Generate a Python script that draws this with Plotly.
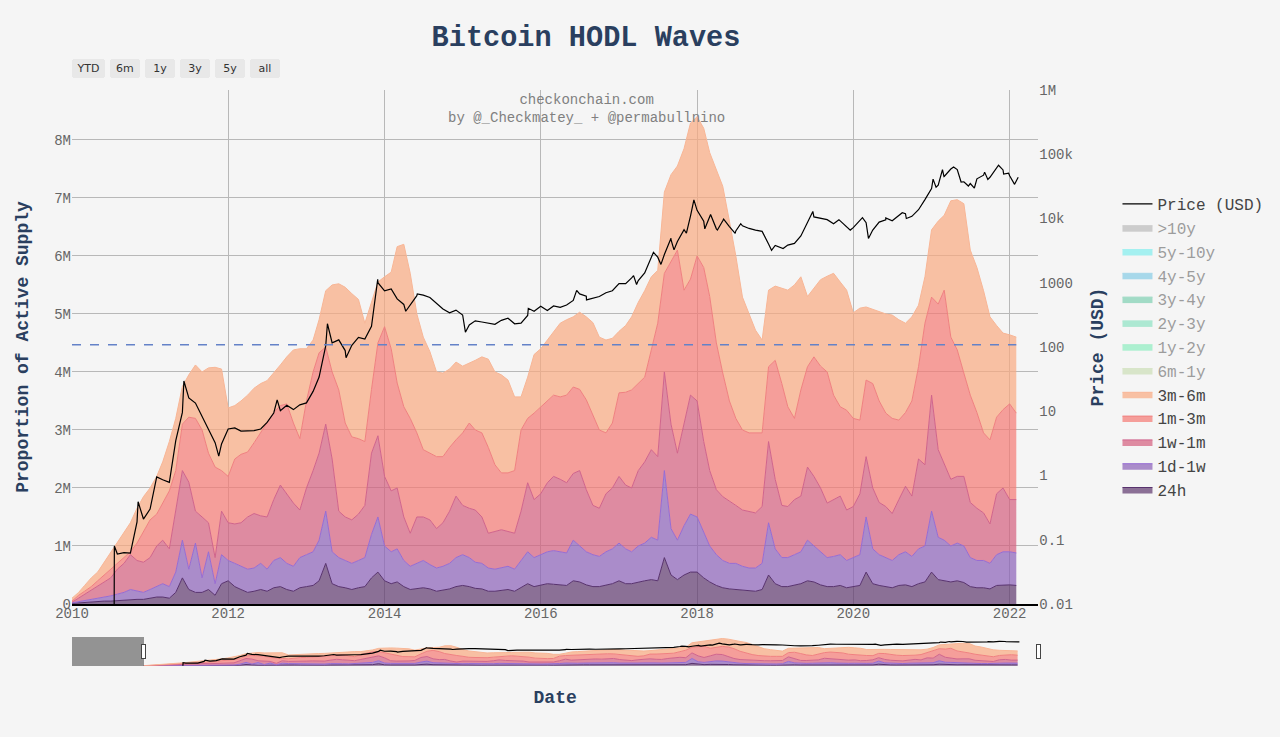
import numpy as np
import pandas as pd
import plotly.graph_objects as go

# ---------------- data ----------------
months = pd.date_range("2010-01-01", "2022-02-01", freq="MS")  # 146 monthly samples

# cumulative top of each stacked band (millions of BTC)
top_24h = [
    0.01, 0.02, 0.03, 0.03, 0.04, 0.05, 0.05, 0.06, 0.07, 0.08, 0.08, 0.08,
    0.10, 0.12, 0.12, 0.10, 0.20, 0.45, 0.25, 0.20, 0.20, 0.25, 0.15, 0.35,
    0.40, 0.30, 0.25, 0.20, 0.22, 0.25, 0.22, 0.28, 0.30, 0.25, 0.22, 0.28,
    0.30, 0.32, 0.40, 0.70, 0.35, 0.30, 0.28, 0.25, 0.28, 0.30, 0.45, 0.55,
    0.40, 0.35, 0.38, 0.30, 0.25, 0.27, 0.28, 0.26, 0.22, 0.24, 0.26, 0.30,
    0.32, 0.30, 0.27, 0.26, 0.22, 0.22, 0.24, 0.25, 0.22, 0.28, 0.35, 0.30,
    0.32, 0.35, 0.34, 0.33, 0.32, 0.40, 0.38, 0.33, 0.30, 0.30, 0.33, 0.35,
    0.40, 0.35, 0.35, 0.38, 0.40, 0.42, 0.40, 0.80, 0.50, 0.42, 0.50, 0.55,
    0.55, 0.45, 0.38, 0.32, 0.28, 0.26, 0.25, 0.24, 0.22, 0.22, 0.25, 0.50,
    0.35, 0.30, 0.30, 0.32, 0.35, 0.40, 0.38, 0.33, 0.30, 0.30, 0.32, 0.28,
    0.30, 0.32, 0.55, 0.35, 0.32, 0.30, 0.28, 0.32, 0.33, 0.30, 0.35, 0.38,
    0.55, 0.42, 0.40, 0.38, 0.40, 0.37, 0.30, 0.28, 0.28, 0.26, 0.32, 0.33,
    0.33, 0.32,
]
top_1d_1w = [
    0.02, 0.04, 0.06, 0.08, 0.10, 0.12, 0.14, 0.17, 0.20, 0.25, 0.22, 0.20,
    0.25, 0.30, 0.35, 0.30, 0.55, 1.10, 0.60, 1.05, 0.45, 0.90, 0.35, 0.85,
    0.75, 0.70, 0.65, 0.60, 0.62, 0.70, 0.60, 0.75, 0.80, 0.70, 0.65, 0.80,
    0.85, 0.90, 1.10, 1.60, 0.90, 0.80, 0.75, 0.70, 0.75, 0.80, 1.20, 1.50,
    1.00, 0.90, 0.95, 0.75, 0.65, 0.70, 0.75, 0.68, 0.62, 0.65, 0.70, 0.80,
    0.85, 0.80, 0.72, 0.70, 0.62, 0.60, 0.62, 0.65, 0.60, 0.75, 0.90, 0.80,
    0.85, 0.90, 0.92, 0.90, 0.88, 1.10, 1.00, 0.90, 0.85, 0.82, 0.90, 0.95,
    1.05, 0.95, 0.90, 1.00, 1.05, 1.15, 1.10, 2.30, 1.30, 1.10, 1.35, 1.55,
    1.50, 1.25, 1.00, 0.85, 0.75, 0.70, 0.70, 0.65, 0.62, 0.62, 0.70, 1.40,
    0.95, 0.80, 0.80, 0.85, 0.90, 1.10, 1.00, 0.90, 0.80, 0.82, 0.85, 0.75,
    0.80, 0.85, 1.50, 0.95, 0.85, 0.80, 0.75, 0.85, 0.90, 0.82, 0.95, 1.00,
    1.60, 1.15, 1.10, 1.00, 1.05, 1.00, 0.80, 0.75, 0.75, 0.70, 0.85, 0.90,
    0.90, 0.88,
]
top_1w_1m = [
    0.03, 0.10, 0.17, 0.23, 0.30, 0.38, 0.45, 0.60, 0.70, 0.85, 0.75, 0.72,
    0.80, 1.00, 1.10, 0.95, 1.60, 2.30, 2.10, 1.60, 1.50, 1.40, 0.80, 1.60,
    1.40, 1.38, 1.40, 1.50, 1.56, 1.52, 1.50, 1.80, 2.05, 1.90, 1.74, 1.62,
    2.00, 2.30, 2.60, 3.10, 2.50, 1.60, 1.50, 1.45, 1.55, 1.70, 2.60, 2.90,
    2.20, 1.95, 2.00, 1.50, 1.22, 1.50, 1.50, 1.45, 1.30, 1.40, 1.60, 1.86,
    1.70, 1.65, 1.62, 1.50, 1.22, 1.25, 1.28, 1.25, 1.22, 1.60, 2.09, 1.80,
    1.90, 2.09, 2.20, 2.15, 2.09, 2.25, 2.30, 1.97, 1.70, 1.65, 1.90, 2.00,
    2.20, 2.05, 2.00, 2.30, 2.45, 2.66, 2.54, 4.00, 3.10, 2.60, 3.10, 3.60,
    3.50, 2.80, 2.30, 1.97, 1.85, 1.78, 1.70, 1.62, 1.60, 1.57, 1.68, 2.80,
    2.15, 1.70, 1.68, 1.80, 1.86, 2.36, 2.20, 2.00, 1.74, 1.80, 1.86, 1.62,
    1.68, 1.90, 2.54, 2.00, 1.75, 1.68, 1.56, 1.80, 2.03, 1.86, 2.50, 2.40,
    3.60, 2.66, 2.43, 2.15, 2.20, 2.20, 1.75, 1.65, 1.57, 1.38, 1.90, 2.00,
    1.80, 1.80,
]
top_1m_3m = [
    0.05, 0.15, 0.22, 0.30, 0.40, 0.50, 0.60, 0.70, 0.80, 0.90, 1.05, 1.25,
    1.45, 1.55, 1.74, 1.95, 2.30, 3.10, 3.22, 3.20, 3.00, 2.60, 2.36, 2.30,
    2.20, 2.50, 2.58, 2.62, 2.78, 2.95, 3.12, 3.30, 3.42, 3.45, 3.12, 2.85,
    3.50, 4.00, 4.33, 4.43, 4.00, 3.69, 3.12, 2.88, 2.85, 2.80, 3.70, 4.50,
    4.78, 4.40, 3.81, 3.40, 3.20, 2.95, 2.66, 2.60, 2.54, 2.54, 2.70, 2.83,
    2.95, 3.12, 3.00, 2.95, 2.70, 2.40, 2.26, 2.26, 2.30, 3.00, 3.20, 3.29,
    3.40, 3.50, 3.60, 3.57, 3.60, 3.74, 3.70, 3.52, 3.25, 3.00, 2.95, 3.12,
    3.64, 3.65, 3.69, 3.80, 3.91, 4.38, 4.84, 5.70, 5.90, 6.10, 5.41, 5.60,
    6.00, 5.80, 5.30, 4.50, 3.98, 3.50, 3.20, 3.00, 2.95, 2.95, 2.95, 4.09,
    4.20, 3.80, 3.40, 3.20, 3.69, 4.09, 4.26, 4.10, 4.00, 3.60, 3.40, 3.34,
    3.20, 3.17, 3.86, 3.80, 3.50, 3.29, 3.20, 3.17, 3.30, 3.50, 4.09, 4.84,
    5.29, 5.17, 5.41, 4.60, 4.38, 3.98, 3.60, 3.30, 2.95, 2.83, 3.22, 3.35,
    3.45, 3.29,
]
top_3m_6m = [
    0.10, 0.20, 0.32, 0.45, 0.55, 0.72, 0.90, 1.05, 1.22, 1.40, 1.65, 1.85,
    2.00, 2.20, 2.45, 2.80, 3.20, 3.75, 3.95, 4.12, 4.00, 4.07, 4.08, 4.05,
    3.38, 3.42, 3.50, 3.60, 3.72, 3.80, 3.85, 3.98, 4.12, 4.26, 4.38, 4.40,
    4.40, 4.55, 4.90, 5.40, 5.50, 5.52, 5.46, 5.35, 5.25, 4.84, 5.20, 5.55,
    5.64, 5.72, 6.16, 6.20, 5.70, 5.00, 4.60, 4.35, 4.00, 3.98, 4.05, 4.17,
    4.10, 4.15, 4.20, 4.26, 4.22, 4.00, 3.95, 3.86, 3.57, 3.57, 3.91, 4.30,
    4.40, 4.55, 4.70, 4.84, 4.90, 4.95, 5.03, 4.95, 4.85, 4.60, 4.55, 4.58,
    4.70, 4.80, 4.95, 5.20, 5.40, 5.64, 5.75, 7.10, 7.40, 7.55, 7.85, 8.29,
    8.40, 8.20, 7.78, 7.50, 7.20, 6.60, 6.00, 5.29, 5.00, 4.72, 4.55, 5.41,
    5.48, 5.45, 5.41, 5.50, 5.64, 5.30, 5.45, 5.59, 5.65, 5.70, 5.55, 5.41,
    5.02, 5.10, 5.12, 5.08, 5.05, 5.00, 4.98, 4.90, 4.84, 4.95, 5.15, 5.64,
    6.45, 6.60, 6.70, 6.95, 6.97, 6.90, 6.10, 5.80, 5.40, 4.95, 4.80, 4.67,
    4.64, 4.60,
]

# BTC price (USD), monthly plus intra-month highs and lows
price_months = pd.date_range("2010-08-01", "2022-02-01", freq="MS")
price_monthly = [
    0.06, 0.063, 0.062, 0.19, 0.21,
    0.30, 0.95, 0.86, 0.78, 3.5, 9.6, 16.1, 13.4, 8.2, 5.1, 3.25, 3.1,
    5.3, 5.5, 4.9, 4.9, 5.0, 5.3, 6.7, 9.4, 10.2, 12.4, 10.6, 12.6,
    13.5, 20.4, 34, 104, 116, 129, 88, 106, 141, 133, 210, 1000,
    750, 800, 560, 460, 450, 630, 640, 590, 480, 390, 340, 375,
    315, 220, 255, 245, 235, 225, 260, 280, 230, 235, 310, 360,
    430, 370, 435, 415, 450, 530, 670, 620, 570, 610, 700, 750,
    970, 970, 1190, 1080, 1420, 2400, 2500, 2750, 4700, 4400, 6700, 10900,
    13400, 9100, 10300, 6900, 9200, 7500, 6400, 7700, 7000, 6600, 6300, 4000,
    3800, 3450, 3850, 4100, 5350, 8550, 10600, 10100, 9600, 8300, 9200, 7600,
    7200, 9400, 8600, 6600, 8800, 9500, 9200, 11300, 11900, 10800, 13700, 19700,
    29300, 33100, 45200, 58900, 57800, 37300, 35000, 41500, 47200, 43800, 61300, 57000,
    46300, 38500,
]
price_extra_dates = [
    "2010-07-17", "2010-07-18", "2010-11-06", "2011-06-08", "2011-11-18",
    "2012-08-17", "2013-04-09", "2013-07-05", "2013-11-30", "2014-04-10",
    "2014-06-03", "2015-01-14", "2015-11-04", "2016-06-17", "2016-08-02",
    "2017-03-10", "2017-03-24", "2017-06-11", "2017-07-16", "2017-09-01",
    "2017-09-15", "2017-11-12", "2017-12-17", "2018-02-06", "2018-03-05",
    "2018-04-06", "2018-05-05", "2018-06-28", "2018-07-24", "2018-12-15",
    "2019-02-07", "2019-06-26", "2019-10-26", "2019-12-18", "2020-02-13",
    "2020-03-12", "2020-06-01", "2020-08-17", "2020-09-05", "2021-01-08",
    "2021-01-22", "2021-02-21", "2021-02-28", "2021-04-14", "2021-05-19",
    "2021-06-22", "2021-07-20", "2021-09-06", "2021-09-21", "2021-11-10",
    "2021-12-04", "2021-12-27", "2022-01-24", "2022-02-10",
]
price_extra_values = [
    0.006, 0.08, 0.39, 29.6, 2.0,
    15, 230, 68, 1130, 360,
    670, 170, 400, 760, 540,
    1290, 940, 2980, 1930, 4920,
    3250, 5900, 19500, 6900, 11500,
    6600, 9800, 5850, 8300, 3200,
    3400, 12900, 9550, 6600, 10300,
    4900, 10200, 12300, 10000, 41000,
    30800, 57500, 45000, 63500, 37000,
    32000, 29800, 52700, 40500, 67500,
    49000, 50600, 34000, 44000,
]

ref_level = 4.47e6  # dashed horizontal reference line

legend_only = [("6m-1y", "#bbd59d"), ("1y-2y", "#65ebab"), ("2y-3y", "#65dbaf"),
               ("3y-4y", "#51c197"), ("4y-5y", "#5bbbdf"), ("5y-10y", "#55ebeb"),
               (">10y", "#a3a3a3")]

# ---------------- figure ----------------
FONT = "Courier New, Liberation Mono, monospace"
BG = "#f5f5f5"

tops = [np.array(t) * 1e6 for t in (top_24h, top_1d_1w, top_1w_1m, top_1m_3m, top_3m_6m)]
bands = [tops[0]] + [np.clip(tops[i] - tops[i - 1], 0, None) for i in range(1, 5)]
band_names = ["24h", "1d-1w", "1w-1m", "1m-3m", "3m-6m"]
band_lines = ["rgb(88,50,110)", "rgb(150,108,212)", "rgb(208,100,140)",
              "rgb(240,128,128)", "rgb(248,182,150)"]
band_fills = ["rgba(94,55,109,0.7)", "rgba(138,95,184,0.7)", "rgba(212,94,126,0.7)",
              "rgba(245,121,116,0.7)", "rgba(249,169,128,0.7)"]

fig = go.Figure()
for name, vals, lc, fc in zip(band_names, bands, band_lines, band_fills):
    fig.add_trace(go.Scatter(x=months, y=vals, name=name, mode="lines",
                             stackgroup="one", line=dict(color=lc, width=1),
                             fillcolor=fc))
# hidden (legend-only) cohorts: no values are drawn for them
for name, col in legend_only:
    fig.add_trace(go.Scatter(x=[months[0]], y=[None], name=name, mode="lines",
                             fill="tonexty", line=dict(color=col, width=1),
                             fillcolor=col, visible="legendonly"))

p = pd.Series(list(price_monthly) + list(price_extra_values),
              index=list(price_months) + list(pd.to_datetime(price_extra_dates))).sort_index()
fig.add_trace(go.Scatter(x=p.index, y=p.values, name="Price (USD)", mode="lines",
                         line=dict(color="black", width=1.2), yaxis="y2"))

fig.add_shape(type="line", xref="x", yref="y", x0=months[0], x1=months[-1],
              y0=ref_level, y1=ref_level, layer="above",
              line=dict(color="rgb(100,130,200)", width=1.5, dash="dash"))

tickfont = dict(family=FONT, size=14, color="#666")
titlefont = dict(family=FONT, size=18, color="#2a3f5f", weight="bold")

fig.update_layout(
    width=1280, height=737,
    paper_bgcolor=BG, plot_bgcolor=BG,
    margin=dict(l=72, r=180, t=90, b=71),
    font=dict(family=FONT, color="#444"),
    title=dict(text="Bitcoin HODL Waves", x=0.5, xref="paper", xanchor="center",
               y=1 - 36 / 737, yanchor="middle",
               font=dict(family=FONT, size=28.6, color="#2a3f5f", weight="bold")),
    showlegend=True,
    legend=dict(x=1.017, y=0.5, xanchor="left", yanchor="middle",
                traceorder="reversed", font=dict(family=FONT, size=16, color="#444"),
                bgcolor="rgba(0,0,0,0)"),
    xaxis=dict(
        type="date", domain=[0, 0.94], range=["2010-01-01", "2022-05-15"],
        showgrid=True, gridcolor="#b8b8b8", gridwidth=1,
        tick0="2010-01-01", dtick="M24", tickformat="%Y", tickfont=tickfont,
        ticklabelstandoff=-5,
        showline=True, linecolor="black", linewidth=2, ticks="",
        title=dict(text="Date", font=titlefont),
        rangeslider=dict(visible=True, thickness=0.05, bgcolor=BG,
                         range=["2009-01-03", "2022-05-15"]),
        rangeselector=dict(
            x=0, y=1.02, xanchor="left", yanchor="bottom",
            bgcolor="#e8e8e8", activecolor="#d4d4d4",
            font=dict(family="DejaVu Sans", size=11, color="#333"),
            buttons=[dict(label="YTD", step="year", stepmode="todate", count=1),
                     dict(label="6m", step="month", stepmode="backward", count=6),
                     dict(label="1y", step="year", stepmode="backward", count=1),
                     dict(label="3y", step="year", stepmode="backward", count=3),
                     dict(label="5y", step="year", stepmode="backward", count=5),
                     dict(label="all", step="all")]),
    ),
    yaxis=dict(range=[0, 8.86e6], dtick=1e6, showgrid=True, gridcolor="#b8b8b8",
               zeroline=False, tickfont=tickfont,
               title=dict(text="Proportion of Active Supply", font=titlefont, standoff=20)),
    yaxis2=dict(type="log", range=[-2, 6], dtick=1, overlaying="y", side="right",
                anchor="x", showgrid=False, zeroline=False, tickfont=tickfont,
                title=dict(text="Price (USD)", font=titlefont, standoff=18)),
    annotations=[dict(text="checkonchain.com<br>by @_Checkmatey_ + @permabullnino",
                      x=0.5, y=1.0, xref="paper", yref="paper", xanchor="center",
                      yanchor="top", showarrow=False,
                      font=dict(family=FONT, size=14, color="#808080"))],
)

fig.write_html("out.html", config={"displayModeBar": False},
               post_script="document.body.style.margin='0';")
